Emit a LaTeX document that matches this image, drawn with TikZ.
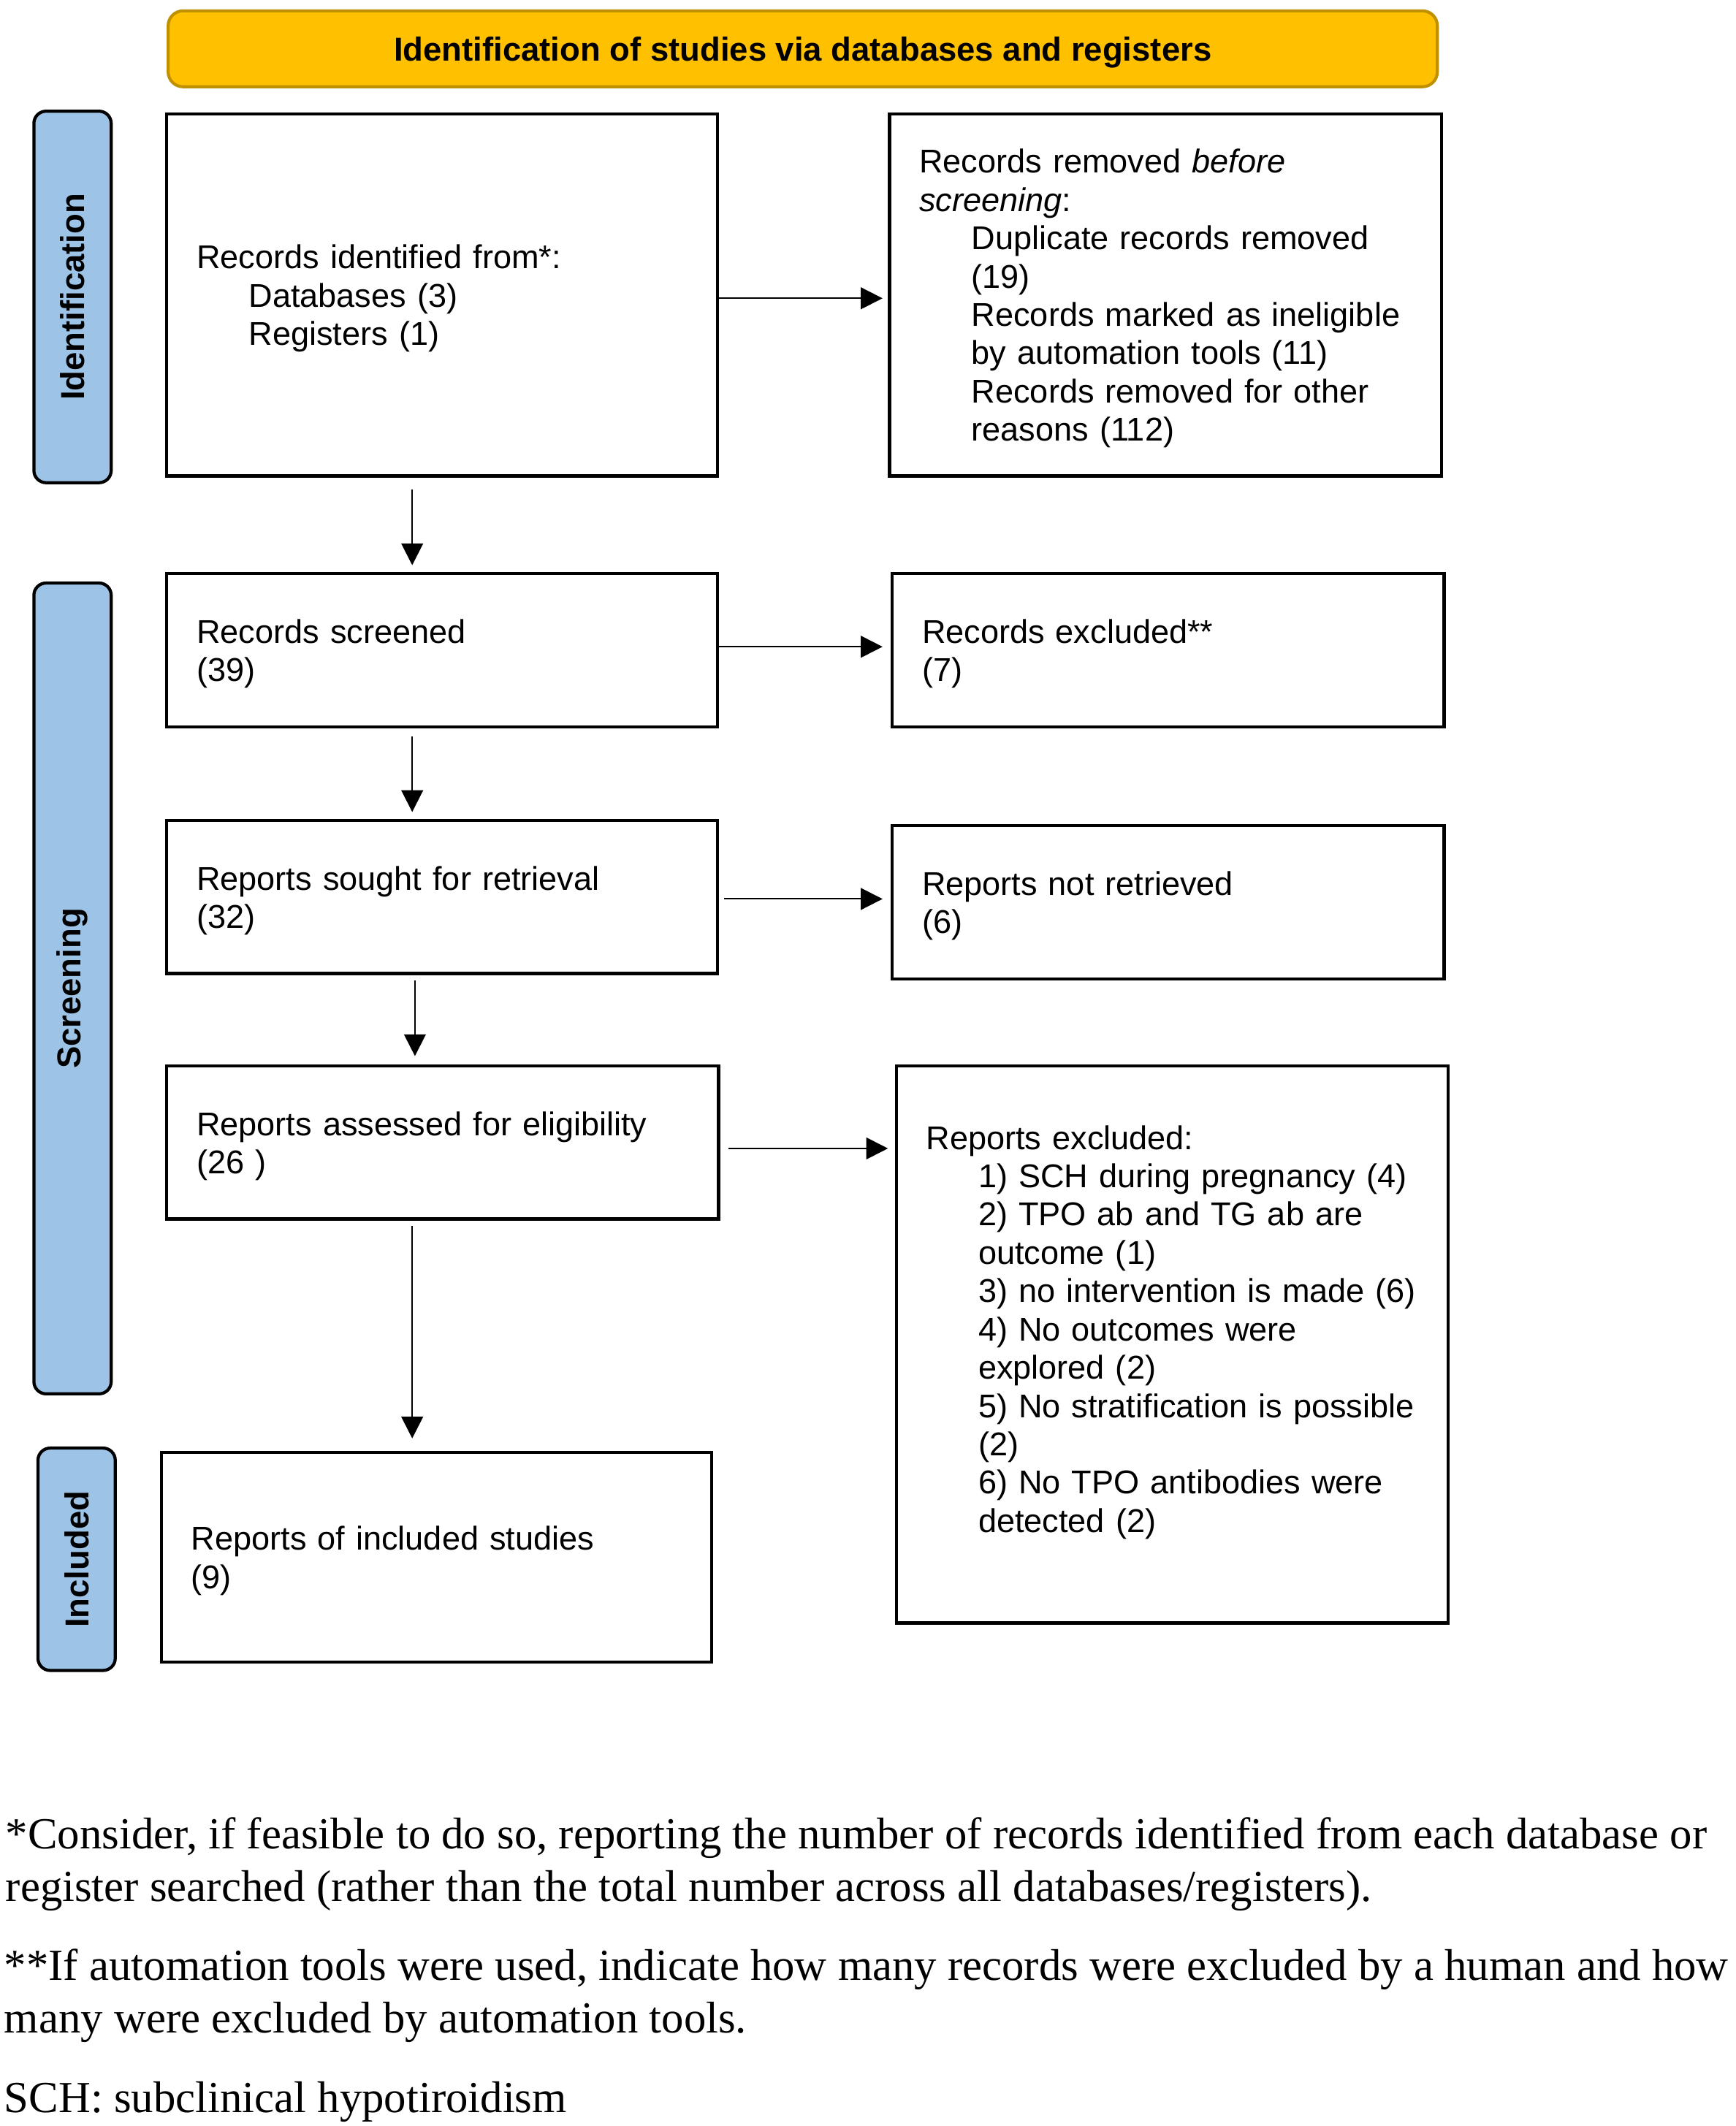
\documentclass[tikz,border=0pt]{standalone}
\usepackage{fontspec}
\setmainfont{Liberation Sans}
\newfontfamily\notefont{Liberation Serif}
\usetikzlibrary{arrows.meta}
\definecolor{hdrfill}{HTML}{FFC000}
\definecolor{hdrdraw}{HTML}{BF9000}
\definecolor{sidefill}{HTML}{9DC3E6}
\tikzset{
  flowbox/.style={draw=black, line width=2.3pt, fill=white, inner xsep=22pt, inner ysep=0pt,
    align=left, font=\fontsize{24.3}{28.25}\selectfont, anchor=center,
    execute at begin node={\rule{0pt}{23pt}}},
  sidebox/.style={draw=black, line width=2.3pt, fill=sidefill, rounded corners=9pt, rotate=90,
    inner sep=0pt, font=\bfseries\fontsize{24.5}{28.4}\selectfont},
  hdrbox/.style={draw=hdrdraw, line width=2.2pt, fill=hdrfill, rounded corners=11pt,
    inner sep=0pt, font=\bfseries\fontsize{24.5}{28.4}\selectfont},
  arr/.style={-{Triangle[length=16pt,width=16pt]}, line width=1.1pt},
  note/.style={anchor=west, inner sep=0pt, align=left, font=\notefont\fontsize{32.75}{38.5}\selectfont}
}
\newcommand{\ind}{\hspace*{38.5pt}}
\begin{document}
\begin{tikzpicture}[x=1pt,y=-1pt]
\useasboundingbox (0,0) rectangle (1280,1568);
\fill[white] (0,0) rectangle (1280,1568);

\node[hdrbox, minimum width=936pt, minimum height=56pt] (hdr) at (592,36) {\rule{0pt}{23.5pt}Identification of studies via databases and registers};

\node[sidebox, minimum width=274pt, minimum height=57pt] (sid) at (53.5,219) {Identification};
\node[sidebox, minimum width=598pt, minimum height=57pt] (sscr) at (53.5,729) {Screening};
\node[sidebox, minimum width=164pt, minimum height=57pt] (sinc) at (56.5,1150) {Included};

\node[flowbox, minimum width=406pt, minimum height=267pt, text width=362pt] (b1) at (326,217.5)
  {Records identified from*:\\ \ind Databases (3)\\ \ind Registers (1)};
\node[flowbox, minimum width=407pt, minimum height=267pt, text width=363pt] (b2) at (859.5,217.5)
  {Records removed \textit{before}\\ \textit{screening}:\\ \ind Duplicate records removed\\ \ind (19)\\
   \ind Records marked as ineligible\\ \ind by automation tools (11)\\ \ind Records removed for other\\ \ind reasons (112)};
\node[flowbox, minimum width=406pt, minimum height=113pt, text width=362pt] (b3) at (326,479.5)
  {Records screened\\ (39)};
\node[flowbox, minimum width=407pt, minimum height=113pt, text width=363pt] (b4) at (861.5,479.5)
  {Records excluded**\\ (7)};
\node[flowbox, minimum width=406pt, minimum height=113pt, text width=362pt] (b5) at (326,661.5)
  {Reports sought for retrieval\\ (32)};
\node[flowbox, minimum width=407pt, minimum height=113pt, text width=363pt] (b6) at (861.5,665.5)
  {Reports not retrieved\\ (6)};
\node[flowbox, minimum width=407pt, minimum height=113pt, text width=363pt] (b7) at (326.5,842.5)
  {Reports assessed for eligibility\\ (26 )};
\node[flowbox, minimum width=407pt, minimum height=411pt, text width=363pt] (b8) at (864.5,991.5)
  {Reports excluded:\\ \ind\mbox{1) SCH during pregnancy (4)}\\ \ind 2) TPO ab and TG ab are\\ \ind outcome (1)\\
   \ind\mbox{3) no intervention is made (6)}\\ \ind 4) No outcomes were\\ \ind explored (2)\\
   \ind\mbox{5) No stratification is possible}\\ \ind (2)\\ \ind 6) No TPO antibodies were\\ \ind detected (2)\\ \mbox{}};
\node[flowbox, minimum width=406pt, minimum height=155pt, text width=362pt] (b9) at (322,1148.5)
  {Reports of included studies\\ (9)};

% vertical arrows
\draw[arr, shorten <=9pt, shorten >=5pt] ([xshift=-22pt]b1.south) -- ([xshift=-22pt]b1.south |- b3.north);
\draw[arr, shorten <=6pt, shorten >=5pt] ([xshift=-22pt]b3.south) -- ([xshift=-22pt]b3.south |- b5.north);
\draw[arr, shorten <=4pt, shorten >=6pt] ([xshift=-20pt]b5.south) -- ([xshift=-20pt]b5.south |- b7.north);
\draw[arr, shorten <=4pt, shorten >=9pt] ([xshift=-22.5pt]b7.south) -- ([xshift=-22.5pt]b7.south |- b9.north);

% horizontal arrows
\draw[arr, shorten >=4pt] ([yshift=-2.5pt]b1.east) -- ([yshift=-2.5pt]b1.east -| b2.west);
\draw[arr, shorten >=6pt] ([yshift=2.5pt]b3.east) -- ([yshift=2.5pt]b3.east -| b4.west);
\draw[arr, shorten <=4pt, shorten >=6pt] ([yshift=-1.5pt]b5.east) -- ([yshift=-1.5pt]b5.east -| b6.west);
\draw[arr, shorten <=6pt, shorten >=5pt] ([yshift=-4.5pt]b7.east) -- ([yshift=-4.5pt]b7.east -| b8.west);

% footnotes
\node[note] (n1) at (4,1375) {*Consider, if feasible to do so, reporting the number of records identified from each database or\\
register searched (rather than the total number across all databases/registers).};
\node[note] (n2) at (3,1472) {**If automation tools were used, indicate how many records were excluded by a human and how\\
many were excluded by automation tools.};
\node[note] (n3) at (3,1550) {SCH: subclinical hypotiroidism};
\end{tikzpicture}
\end{document}
